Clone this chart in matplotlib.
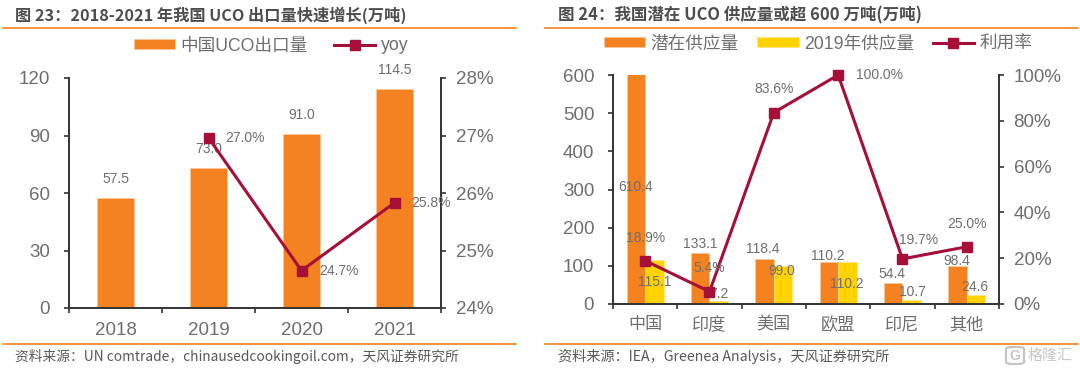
import matplotlib
matplotlib.use("Agg")
import numpy as np
import matplotlib.pyplot as plt
from matplotlib.patches import FancyBboxPatch

plt.rcParams['font.family'] = ['Liberation Sans', 'Noto Sans CJK SC']

years = ['2018', '2019', '2020', '2021']
exports = [57.5, 73.0, 91.0, 114.5]
yoy_years = [1, 2, 3]
yoy = [26.96, 24.65, 25.83]
yoy_labels = ['27.0%', '24.7%', '25.8%']

regions = ['中国', '印度', '美国', '欧盟', '印尼', '其他']
potential = [610.4, 133.1, 118.4, 110.2, 54.4, 98.4]
supply_2019 = [115.1, 7.2, 99.0, 110.2, 10.7, 24.6]
usage = [18.9, 5.4, 83.6, 100.0, 19.7, 25.0]

ORANGE = '#F58220'
YELLOW = '#FFD200'
RED = '#A50F38'
GRAY = '#6E6E6E'
DARK = '#333333'
W, H = 1080, 373

fig = plt.figure(figsize=(W / 100, H / 100), dpi=100)


def px_axes(x0, x1, y_top, y_bottom):
    return fig.add_axes([x0 / W, 1 - y_bottom / H, (x1 - x0) / W, (y_bottom - y_top) / H])


def style_axes(ax, ax2, n):
    ax.set_xlim(0, n)
    ax.set_xticks(np.arange(n + 1))
    ax.set_xticklabels([])
    ax.set_xticks(np.arange(n) + 0.5, minor=True)
    ax.tick_params(axis='x', which='major', direction='out', length=3.5, width=1.2, color=DARK)
    ax.tick_params(axis='x', which='minor', length=0, labelsize=13.5, labelcolor=GRAY, pad=10)
    ax.tick_params(axis='y', direction='out', length=3.5, width=1.2, color=DARK, labelsize=13.5,
                   labelcolor=GRAY, pad=10)
    ax2.tick_params(axis='y', direction='out', length=3.5, width=1.2, color=DARK, labelsize=13.5,
                    labelcolor=GRAY, pad=7)
    for a in (ax, ax2):
        a.spines['top'].set_visible(False)
        for s in ('left', 'right', 'bottom'):
            a.spines[s].set_linewidth(1.2)
            a.spines[s].set_color(DARK)
    ax.set_zorder(1)
    ax2.set_zorder(2)
    ax2.patch.set_visible(False)


def label(ax, x, y, text, dx, dy):
    # offsets given in pixels from the mark
    ax.annotate(text, (x, y), xytext=(dx * 0.72, dy * 0.72), textcoords='offset points',
                ha='center', va='center', fontsize=10, color=GRAY, annotation_clip=False, zorder=10)


# left chart
ax = px_axes(69, 441, 78, 308)
ax2 = ax.twinx()
x = np.arange(len(years)) + 0.5
bars = ax.bar(x, exports, width=0.4, color=ORANGE, edgecolor='#FBC89A', linewidth=0.5, label='中国UCO出口量')
ax.set_ylim(0, 120)
ax.set_yticks([0, 30, 60, 90, 120])
ax2.set_ylim(24, 28)
ax2.set_yticks([24, 25, 26, 27, 28])
ax2.set_yticklabels(['24%', '25%', '26%', '27%', '28%'])
line, = ax2.plot(x[yoy_years], yoy, color=RED, lw=2.2, marker='s', ms=7, label='yoy')
style_axes(ax, ax2, len(years))
ax.set_xticks(x, years, minor=True)
for xi, v in zip(x, exports):
    label(ax, xi, v, f'{v:.1f}', 0, 19)
for xi, v, t in zip(x[yoy_years], yoy, yoy_labels):
    label(ax2, xi, v, t, 37, 0)
fig.legend(handles=[bars, line], loc='center', bbox_to_anchor=(271 / W, 1 - 46 / H), ncol=2, frameon=False,
           fontsize=12.7, labelcolor=GRAY, handlelength=2.33, handleheight=0.5, columnspacing=1.5,
           handletextpad=0.3)

# right chart
ax3 = px_axes(613, 999, 75, 304)
ax4 = ax3.twinx()
x = np.arange(len(regions)) + 0.5
bw = 0.29
b1 = ax3.bar(x - bw / 2, potential, width=bw, color=ORANGE, edgecolor='#FBC89A', linewidth=0.5, label='潜在供应量')
b2 = ax3.bar(x + bw / 2, supply_2019, width=bw, color=YELLOW, edgecolor='#FFE680', linewidth=0.5, label='2019年供应量')
ax3.set_ylim(0, 600)
ax3.set_yticks(range(0, 601, 100))
ax4.set_ylim(0, 100)
ax4.set_yticks(range(0, 101, 20))
ax4.set_yticklabels([f'{t}%' for t in range(0, 101, 20)])
line2, = ax4.plot(x, usage, color=RED, lw=2.2, marker='s', ms=7, label='利用率', clip_on=False)
style_axes(ax3, ax4, len(regions))
ax3.set_xticks(x, regions, minor=True)
ax3.tick_params(axis='x', which='minor', labelsize=12.3, pad=9)

potential_offsets = [(0, -116), (0, 9), (-2, 10), (-1, 6), (-1, 9), (-1, 5)]
supply_offsets = [(0, -22), (0, 7), (-1, -5), (-1, -22), (1, 8), (-1, 8)]
usage_offsets = [(0, 23), (0, 24), (0, 24), (41, 0), (16, 19), (0, 23)]
for i, xi in enumerate(x):
    dx, dy = potential_offsets[i]
    label(ax3, xi - bw / 2, potential[i], f'{potential[i]:.1f}', dx, dy)
    dx, dy = supply_offsets[i]
    label(ax3, xi + bw / 2, supply_2019[i], f'{supply_2019[i]:.1f}', dx, dy)
    dx, dy = usage_offsets[i]
    label(ax4, xi, usage[i], f'{usage[i]:.1f}%', dx, dy)
fig.legend(handles=[b1, b2, line2], loc='center', bbox_to_anchor=(818 / W, 1 - 44 / H), ncol=3, frameon=False,
           fontsize=12.7, labelcolor=GRAY, handlelength=2.33, handleheight=0.5, columnspacing=1.07,
           handletextpad=0.3)

# titles, rules, sources
cjk = ['Noto Sans CJK SC', 'DejaVu Sans']
fig.text(15 / W, 1 - 15 / H, '图 23：2018-2021 年我国 UCO 出口量快速增长(万吨)', fontsize=11.7, fontweight='bold',
         color='#4D4D4D', va='center', family=cjk)
fig.text(558 / W, 1 - 15 / H, '图 24：我国潜在 UCO 供应量或超 600 万吨(万吨)', fontsize=11.9, fontweight='bold',
         color='#4D4D4D', va='center', family=cjk)
fig.text(15 / W, 1 - 356 / H, '资料来源：UN comtrade，chinausedcookingoil.com，天风证券研究所', fontsize=9.9,
         color='#595959', va='center', family=cjk)
fig.text(558 / W, 1 - 356 / H, '资料来源：IEA，Greenea Analysis，天风证券研究所', fontsize=10.2,
         color='#595959', va='center', family=cjk)
for y_px in (28, 344):
    fig.add_artist(plt.Line2D([3 / W, 516 / W], [1 - y_px / H] * 2, color=ORANGE, lw=1.2))
    fig.add_artist(plt.Line2D([545 / W, 1078 / W], [1 - y_px / H] * 2, color=ORANGE, lw=1.2))

# watermark
fig.add_artist(FancyBboxPatch((1006 / W, 1 - 364 / H), 18 / W, 17 / H, boxstyle='round,pad=0,rounding_size=0.006',
                              transform=fig.transFigure, fill=False, ec='#C4C4C4', lw=1.6))
fig.text(1015 / W, 1 - 355.5 / H, 'G', fontsize=10, fontweight='bold', color='#C4C4C4', ha='center', va='center')
fig.text(1028 / W, 1 - 355.5 / H, '格隆汇', fontsize=10.8, color='#C8C8C8', va='center', family=cjk)

fig.savefig('out.png', dpi=100)
